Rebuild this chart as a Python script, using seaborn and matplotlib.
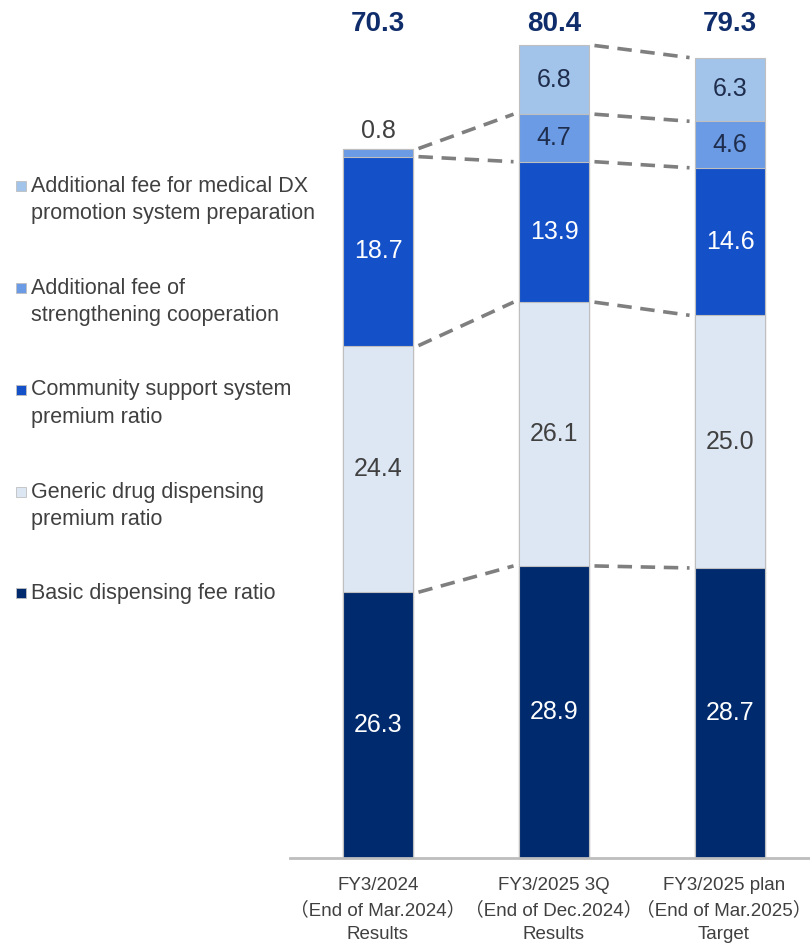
import numpy as np
import pandas as pd
import matplotlib
matplotlib.use("Agg")
import matplotlib.pyplot as plt
import matplotlib.transforms as mtransforms
import seaborn as sns

# data
periods = ["FY3/2024\n（End of Mar.2024）\nResults",
           "FY3/2025 3Q\n（End of Dec.2024）\nResults",
           "FY3/2025 plan\n（End of Mar.2025）\nTarget"]
totals = ["70.3", "80.4", "79.3"]
basic = [26.3, 28.9, 28.7]
generic = [24.4, 26.1, 25.0]
community = [18.7, 13.9, 14.6]
strengthening = [0.8, 4.7, 4.6]
dx = [0.0, 6.8, 6.3]

layer_names = ["Basic dispensing fee ratio",
               "Generic drug dispensing\npremium ratio",
               "Community support system\npremium ratio",
               "Additional fee of\nstrengthening cooperation",
               "Additional fee for medical DX\npromotion system preparation"]
layer_colors = ["#002A6E", "#DDE7F4", "#1450C8", "#6B9BE4", "#A3C4EA"]
label_colors = ["white", "#404040", "white", "#1F2D4D", "#1F2D4D"]

layers = [basic, generic, community, strengthening, dx]
df = pd.DataFrame({"period": periods})
cum = np.cumsum(np.array(layers), axis=0)
for i in range(len(layers)):
    df[f"cum{i}"] = cum[i]

sns.set_style("white")
plt.rcParams["font.family"] = ["Liberation Sans", "Noto Sans CJK JP", "DejaVu Sans"]

fig = plt.figure(figsize=(8.1, 9.44), dpi=100)
W, H = 810, 944
ax = fig.add_axes([290 / W, 1 - 858 / H, 528 / W, 858 / H])

bar_w = 0.4
# draw the stack from the top layer down so each layer covers the one above it
for i in reversed(range(len(layers))):
    sns.barplot(data=df, x="period", y=f"cum{i}", color=layer_colors[i],
                saturation=1, width=bar_w, edgecolor="#BFBFBF", linewidth=0.8, ax=ax)

ax.set_xlim(-0.5, 2.5)
ax.set_ylim(0, 84.9)

# segment labels
for j in range(len(periods)):
    for i, vals in enumerate(layers):
        v = vals[j]
        if v == 0:
            continue
        base = cum[i][j] - v
        if v < 2:
            ax.text(j, cum[i][j] + 1.7, f"{v:.1f}", ha="center", va="center",
                    fontsize=18, color="#404040")
        else:
            ax.text(j, base + v / 2, f"{v:.1f}", ha="center", va="center",
                    fontsize=18, color=label_colors[i])
    ax.text(j, 82.5, totals[j], ha="center", va="center", fontsize=20,
            fontweight="bold", color="#0F2D6B")

# dashed connectors between neighbouring bars
gap = 0.03
for j in range(len(periods) - 1):
    for i, vals in enumerate(layers):
        if vals[j] == 0 or vals[j + 1] == 0:
            continue
        ax.plot([j + bar_w / 2 + gap, j + 1 - bar_w / 2 - gap],
                [cum[i][j], cum[i][j + 1]], color="#7F7F7F", lw=2.6,
                ls=(0, (4, 2.4)), zorder=5)

sns.despine(ax=ax, left=True, top=True, right=True)
ax.spines["bottom"].set_color("#BDBDBD")
ax.spines["bottom"].set_linewidth(2)
ax.set_yticks([])
ax.set_xlabel("")
ax.set_ylabel("")
ax.tick_params(axis="x", length=0, pad=14)
ax.set_xticks(range(len(periods)))
ax.set_xticklabels(periods, fontsize=13.5, color="#404040", linespacing=1.5)
# nudge the last label so it stays inside the figure
last = ax.get_xticklabels()[-1]
last.set_transform(last.get_transform() +
                   mtransforms.ScaledTranslation(-6 / 100, 0, fig.dpi_scale_trans))

# legend on the left, top entry is the top layer
leg_y = [186, 288, 390, 492, 593]
for k, i in enumerate(reversed(range(len(layers)))):
    y0 = leg_y[k]
    fig.patches.append(plt.Rectangle((16 / W, 1 - (y0 + 5) / H), 10 / W, 10 / H,
                                     transform=fig.transFigure, facecolor=layer_colors[i],
                                     edgecolor="#BFBFBF", linewidth=0.6))
    for n, line in enumerate(layer_names[i].split("\n")):
        fig.text(31 / W, 1 - (y0 + n * 27) / H, line, ha="left", va="center",
                 fontsize=15.5, color="#404040")

fig.savefig("out.png", dpi=100)
